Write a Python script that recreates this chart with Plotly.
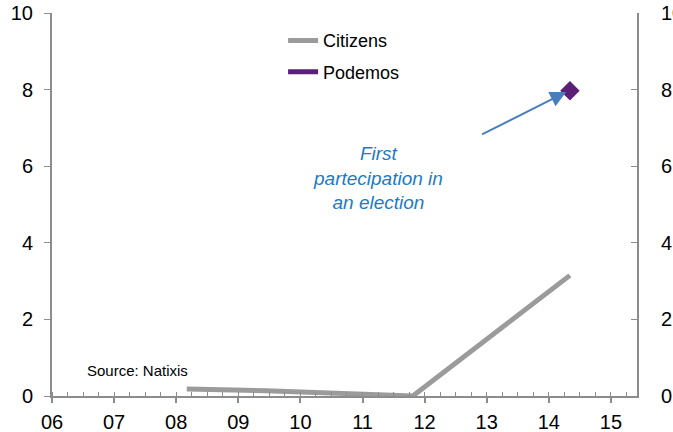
import plotly.graph_objects as go

# Data (vote share, %)
cit_x = [2008.17, 2009.45, 2011.81, 2014.34]
cit_y = [0.18, 0.14, 0.0, 3.15]
pod_x = [2014.34]
pod_y = [7.97]
xtick_vals = [2006, 2007, 2008, 2009, 2010, 2011, 2012, 2013, 2014, 2015]
xtick_text = ["06", "07", "08", "09", "10", "11", "12", "13", "14", "15"]
ytick_vals = [0, 2, 4, 6, 8, 10]

GREY = "#9b9b9b"
PURPLE = "#5b1f78"
AXIS = "#8c8c8c"
FONT = "Liberation Sans, Arial, sans-serif"

fig = go.Figure()
fig.add_trace(go.Scatter(x=cit_x, y=cit_y, mode="lines", name="Citizens",
                         legendgroup="a",
                         line=dict(color=GREY, width=5), yaxis="y"))
fig.add_trace(go.Scatter(x=[None], y=[None], mode="lines", name="Podemos",
                         legendgroup="b",
                         line=dict(color=PURPLE, width=5), yaxis="y2"))
fig.add_trace(go.Scatter(x=pod_x, y=pod_y, mode="markers", name="Podemos",
                         showlegend=False, legendgroup="b",
                         marker=dict(symbol="diamond", size=15, color=PURPLE),
                         yaxis="y2"))

fig.add_annotation(x=2014.28, y=7.94, ax=2012.9, ay=6.81, xref="x", yref="y",
                   axref="x", ayref="y", text="", showarrow=True,
                   arrowhead=2, arrowsize=1.6, arrowwidth=2, arrowcolor="#4a7ebb")
fig.add_annotation(x=2011.25, y=5.7, xref="x", yref="y", showarrow=False,
                   text="<i>First<br>partecipation in<br>an election</i>",
                   font=dict(family=FONT, size=19, color="#1b7bc6"),
                   align="center")
fig.add_annotation(x=2006.53, y=0.67, xref="x", yref="y", showarrow=False,
                   xanchor="left", text="Source: Natixis",
                   font=dict(family=FONT, size=15, color="#000000"))

fig.update_layout(
    width=673, height=432,
    margin=dict(l=52, r=36, t=13, b=36, autoexpand=False),
    paper_bgcolor="white", plot_bgcolor="white",
    font=dict(family=FONT, size=20, color="#000000"),
    showlegend=True,
    legend=dict(x=0.395, y=0.976, xanchor="left", yanchor="top",
                font=dict(family=FONT, size=18, color="#000000"),
                bgcolor="rgba(0,0,0,0)", tracegroupgap=5, itemwidth=30),
    xaxis=dict(range=[2006, 2015.42], tickvals=xtick_vals, ticktext=xtick_text,
               showgrid=False, zeroline=False, showline=True, linecolor=AXIS,
               linewidth=2, ticks="outside", ticklen=5, tickwidth=2,
               tickcolor=AXIS, ticklabelstandoff=2, automargin=False,
               minor=dict(dtick=0.25, tick0=2006, ticks="inside", ticklen=4,
                          tickwidth=1, tickcolor=AXIS, showgrid=False),
               tickfont=dict(size=20)),
    yaxis=dict(range=[0, 10], tickvals=ytick_vals, showgrid=False,
               zeroline=False, showline=True, linecolor=AXIS, linewidth=2,
               ticks="outside", ticklen=6, tickwidth=1, tickcolor=AXIS,
               ticklabelstandoff=7, automargin=False, tickfont=dict(size=20)),
    yaxis2=dict(range=[0, 10], tickvals=ytick_vals, overlaying="y",
                side="right", showgrid=False, zeroline=False, showline=True,
                linecolor=AXIS, linewidth=2, ticks="inside", ticklen=6,
                tickwidth=1, tickcolor=AXIS, ticklabelstandoff=18,
                automargin=False, tickfont=dict(size=20)),
)

fig.write_html("out.html")
